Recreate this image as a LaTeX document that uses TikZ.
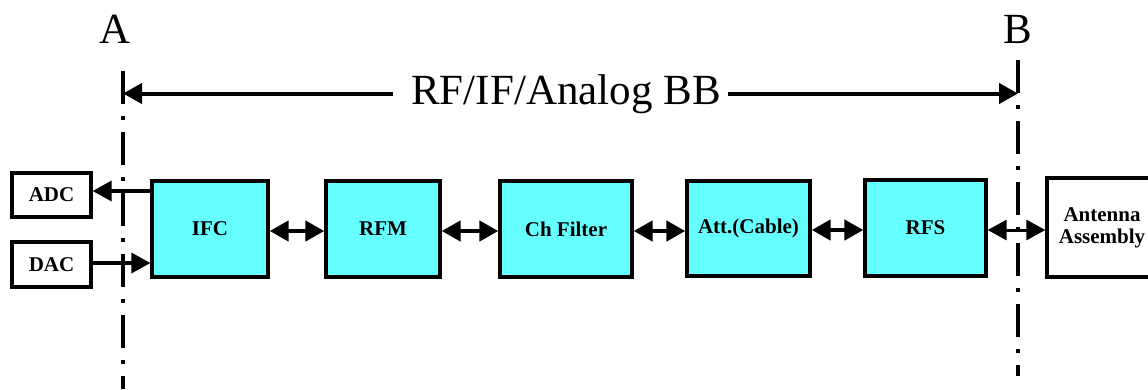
\documentclass[tikz,border=0pt]{standalone}
\usepackage{fontspec}
\setmainfont{Liberation Serif}
\usetikzlibrary{arrows.meta}
\definecolor{boxcyan}{RGB}{102,255,255}
\begin{document}
\begin{tikzpicture}[x=1pt,y=-1pt,
  blk/.style={draw=black,line width=3.3pt,fill=boxcyan,inner sep=0pt,
    font=\fontsize{21}{24}\selectfont\bfseries,align=center},
  wblk/.style={draw=black,line width=3.3pt,fill=white,inner sep=0pt,
    font=\fontsize{21}{24}\selectfont\bfseries,align=center},
  bigtxt/.style={font=\fontsize{43}{48}\selectfont,inner sep=0pt,anchor=base},
  refline/.style={line width=4pt,dash pattern=on 33pt off 12pt on 4pt off 12pt},
  tipA/.style={-{Triangle[length=19pt,width=20pt]}},
  dbl/.style={{Triangle[length=19pt,width=20pt]}-{Triangle[length=19pt,width=20pt]},line width=4.5pt},
  dblthin/.style={{Triangle[length=19pt,width=20pt]}-{Triangle[length=19pt,width=20pt]},line width=3pt}
]
\useasboundingbox (0,0) rectangle (1148,389);

% reference lines
\coordinate (a1) at (123,71);
\coordinate (a2) at (123,389);
\coordinate (b1) at (1018,60);
\coordinate (b2) at (1018,376);
\draw[refline] (a1) -- (a2);
\draw[refline] (b1) -- (b2);

% labels
\node[bigtxt] (lA) at (115,43) {A};
\node[bigtxt] (lB) at (1018,43) {B};
\node[bigtxt] (bb) at (566,104) {RF/IF/Analog BB};

\coordinate (la) at (393,93.5);
\coordinate (ra) at (728,93.5);
\coordinate (ta) at (123,93.5);
\coordinate (tb) at (1018,93.5);
\draw[tipA,line width=4pt] (la) -- (ta);
\draw[tipA,line width=4pt] (ra) -- (tb);

% blocks
\node[blk,minimum width=116pt,minimum height=96pt] (ifc) at (210,229) {IFC};
\node[blk,minimum width=114pt,minimum height=96pt] (rfm) at (383,229) {RFM};
\node[blk,minimum width=132pt,minimum height=96pt] (chf) at (566,229) {Ch Filter};
\node[blk,minimum width=123pt,minimum height=95pt] (att) at (748.5,228.5) {Att.(Cable)};
\node[blk,minimum width=121pt,minimum height=96pt] (rfs) at (925.5,228) {RFS};
\node[wblk,minimum width=110pt,minimum height=99pt] (ant) at (1102,227.5) {Antenna\\[-2pt]Assembly};
\node[wblk,minimum width=79pt,minimum height=44pt] (adc) at (51.5,195) {ADC};
\node[wblk,minimum width=79pt,minimum height=45pt] (dac) at (51.5,264.5) {DAC};

% connectors
\draw[tipA,line width=3.5pt] ([yshift=38pt]ifc.west) -- ([yshift=4pt]adc.east);
\draw[tipA,line width=3.5pt] ([yshift=1.5pt]dac.east) -- ([yshift=-34pt]ifc.west);
\draw[dbl] ([yshift=-2pt]ifc.east) -- ([yshift=-2pt]rfm.west);
\draw[dbl] ([yshift=-2pt]rfm.east) -- ([yshift=-2pt]chf.west);
\draw[dbl] ([yshift=-2pt]chf.east) -- ([yshift=-2.5pt]att.west);
\draw[dbl] ([yshift=-1.5pt]att.east) -- ([yshift=-2pt]rfs.west);
\draw[dblthin] ([yshift=-2pt]rfs.east) -- ([yshift=-2.5pt]ant.west);
\end{tikzpicture}
\end{document}
